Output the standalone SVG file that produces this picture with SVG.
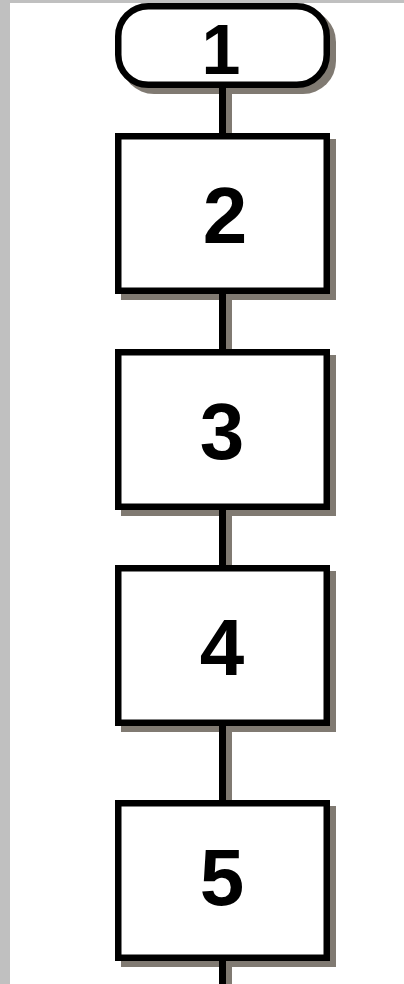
<svg xmlns="http://www.w3.org/2000/svg" width="404" height="984" viewBox="0 0 404 984">
  <style>
    .shadow { fill: #807a72; }
    .box { fill: #ffffff; stroke: #000000; stroke-width: 6.5; }
    .lbl { font-family: "Liberation Sans", Arial, sans-serif; font-weight: bold; fill: #000000; text-anchor: middle; }
    .conn { stroke: #000000; stroke-width: 7; fill: none; }
    .connsh { stroke: #807a72; stroke-width: 6; fill: none; }
  </style>
  <rect x="0" y="0" width="404" height="984" fill="#ffffff"/>
  <rect x="0" y="0" width="404" height="3" fill="#c0c0c0"/>
  <rect x="0" y="0" width="10" height="984" fill="#c0c0c0"/>

  <g id="node1">
    <rect class="shadow" x="121" y="9" width="215" height="85" rx="33" ry="33"/>
    <rect class="box" x="118.25" y="6.25" width="208.5" height="78.5" rx="30" ry="30"/>
    <text class="lbl" x="221" y="74" font-size="70">1</text>
  </g>
  <g id="node2">
    <rect class="shadow" x="121" y="139" width="215" height="161"/>
    <rect class="box" x="118.25" y="136.25" width="208.5" height="154.5"/>
    <text class="lbl" x="225" y="243" font-size="80">2</text>
  </g>
  <g id="node3">
    <rect class="shadow" x="121" y="355" width="215" height="161"/>
    <rect class="box" x="118.25" y="352.25" width="208.5" height="154.5"/>
    <text class="lbl" x="222" y="459" font-size="80">3</text>
  </g>
  <g id="node4">
    <rect class="shadow" x="121" y="571" width="215" height="161"/>
    <rect class="box" x="118.25" y="568.25" width="208.5" height="154.5"/>
    <text class="lbl" x="222" y="675" font-size="80">4</text>
  </g>
  <g id="node5">
    <rect class="shadow" x="121" y="806" width="215" height="161"/>
    <rect class="box" x="118.25" y="803.25" width="208.5" height="154.5"/>
    <text class="lbl" x="222" y="905" font-size="80">5</text>
  </g>

  <g id="connectors">
    <line class="connsh" x1="229" y1="88" x2="229" y2="133"/>
    <line class="conn" x1="222.5" y1="87" x2="222.5" y2="134"/>
    <line class="connsh" x1="229" y1="294" x2="229" y2="349"/>
    <line class="conn" x1="222.5" y1="293" x2="222.5" y2="350"/>
    <line class="connsh" x1="229" y1="510" x2="229" y2="565"/>
    <line class="conn" x1="222.5" y1="509" x2="222.5" y2="566"/>
    <line class="connsh" x1="229" y1="726" x2="229" y2="800"/>
    <line class="conn" x1="222.5" y1="725" x2="222.5" y2="801"/>
    <line class="connsh" x1="229" y1="961" x2="229" y2="984"/>
    <line class="conn" x1="222.5" y1="960" x2="222.5" y2="984"/>
  </g>
</svg>
